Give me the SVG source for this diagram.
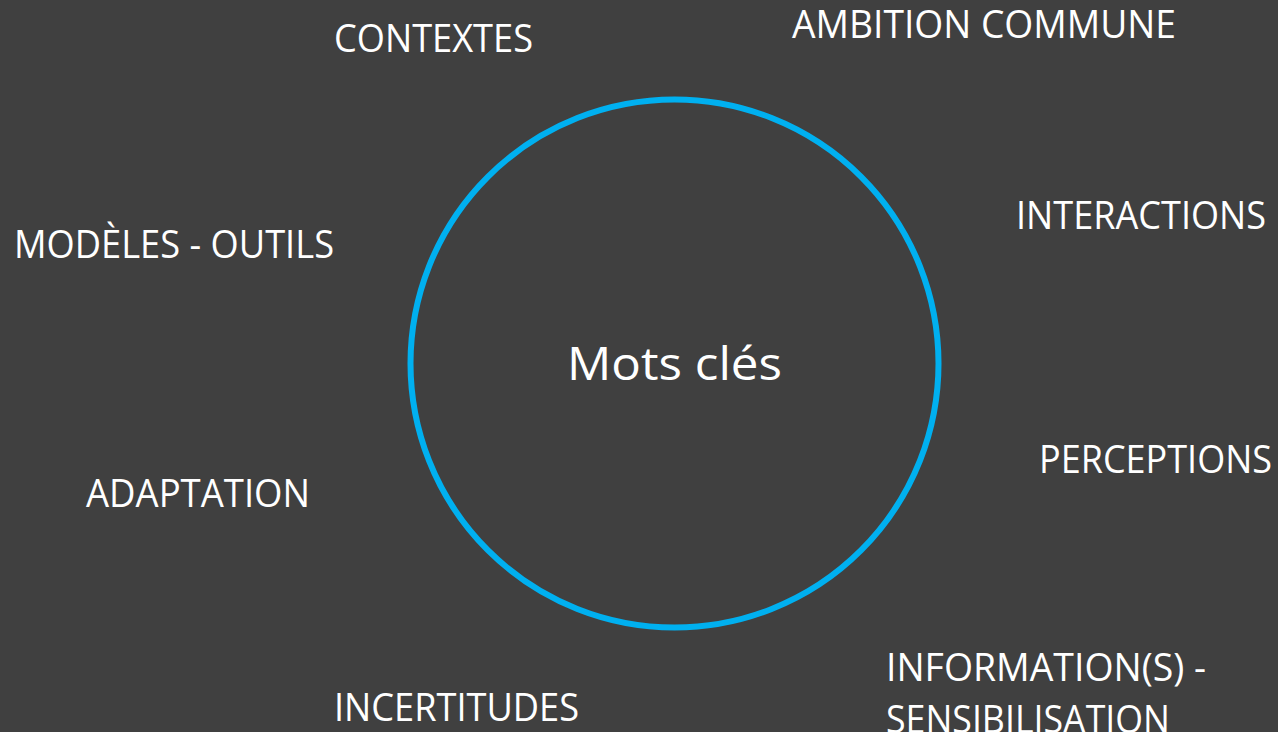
<svg xmlns="http://www.w3.org/2000/svg" width="1278" height="732" viewBox="0 0 1278 732">
<style>
.lbl{font-family:"Open Sans","Liberation Sans",sans-serif;font-size:38px;fill:#ffffff}
.ctr{font-family:"Open Sans","Liberation Sans",sans-serif;font-size:46px;fill:#ffffff}
</style>
<rect width="1278" height="732" fill="#404040"/>
<g id="connectors"></g>
<g id="center">
<circle cx="674.5" cy="363.5" r="264" fill="none" stroke="#00B0F0" stroke-width="6"/>
<text class="ctr" x="567" y="380" textLength="215" lengthAdjust="spacingAndGlyphs">Mots clés</text>
</g>
<g id="contextes"><text class="lbl" x="334" y="52" textLength="199" lengthAdjust="spacingAndGlyphs">CONTEXTES</text></g>
<g id="ambition"><text class="lbl" x="792" y="38" textLength="384" lengthAdjust="spacingAndGlyphs">AMBITION COMMUNE</text></g>
<g id="interactions"><text class="lbl" x="1016" y="229" textLength="250" lengthAdjust="spacingAndGlyphs">INTERACTIONS</text></g>
<g id="modeles"><text class="lbl" x="14" y="258" textLength="320" lengthAdjust="spacingAndGlyphs">MODÈLES - OUTILS</text></g>
<g id="perceptions"><text class="lbl" x="1039" y="473" textLength="233" lengthAdjust="spacingAndGlyphs">PERCEPTIONS</text></g>
<g id="adaptation"><text class="lbl" x="86" y="507" textLength="224" lengthAdjust="spacingAndGlyphs">ADAPTATION</text></g>
<g id="information"><text class="lbl" x="886" y="681" textLength="320" lengthAdjust="spacingAndGlyphs">INFORMATION(S) -</text><text class="lbl" x="886" y="733" textLength="284" lengthAdjust="spacingAndGlyphs">SENSIBILISATION</text></g>
<g id="incertitudes"><text class="lbl" x="334" y="721" textLength="245" lengthAdjust="spacingAndGlyphs">INCERTITUDES</text></g>
</svg>
